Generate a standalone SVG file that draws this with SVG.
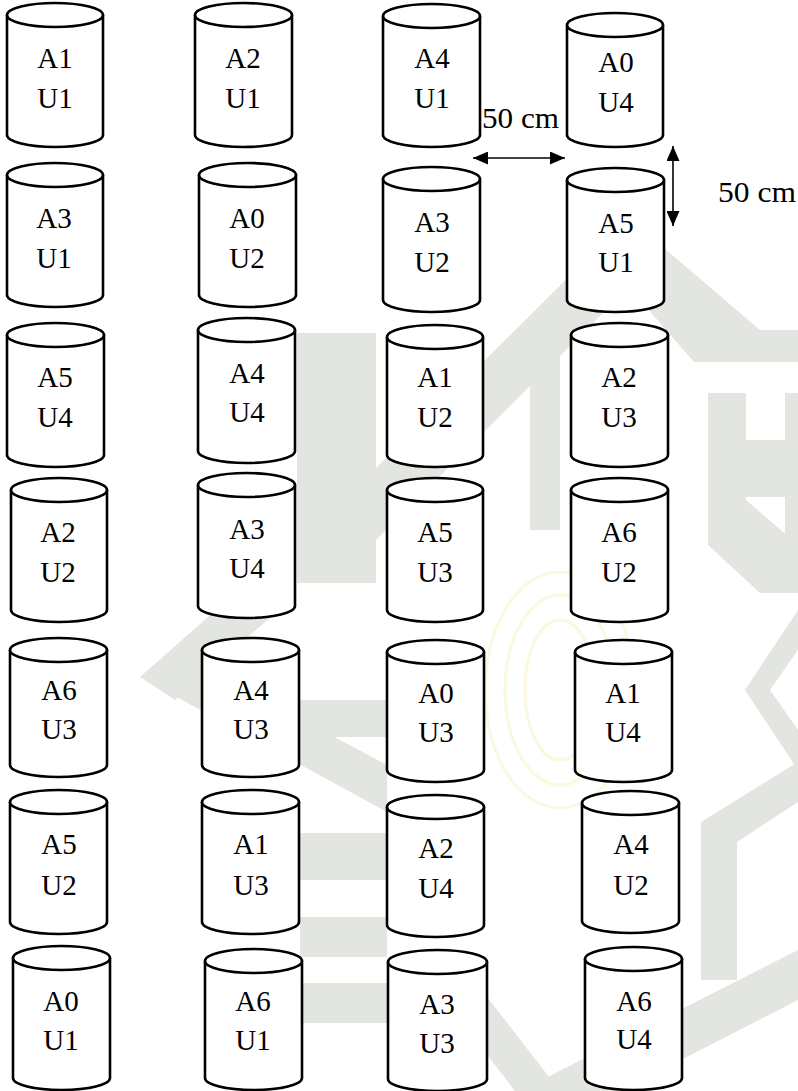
<svg xmlns="http://www.w3.org/2000/svg" width="798" height="1091" viewBox="0 0 798 1091">
<defs>
<style>
.cyl path, .cyl ellipse { fill: #ffffff; stroke: #000000; stroke-width: 2.6; }
.lbl { font-size: 29px; fill: #000000; text-anchor: middle; }
.dim { font-size: 29px; fill: #000000; }
.wm { fill: #e2e5e0; }
.arrow { stroke: #000000; stroke-width: 1.6; fill: none; }
</style>
<marker id="ah" viewBox="0 0 15 13" refX="15" refY="6.5" markerWidth="15" markerHeight="13" markerUnits="userSpaceOnUse" orient="auto-start-reverse">
<path d="M0,0 L15,6.5 L0,13 z" fill="#000000"/>
</marker>
</defs>
<rect x="0" y="0" width="798" height="1091" fill="#ffffff"/>
<g id="watermark">
<polygon class="wm" points="376,468 610,236 650,266 560,356 560,530 530,530 530,386 376,540"/>
<polygon class="wm" points="610,236 650,236 760,330 798,330 798,362 694,362 640,300"/>
<rect class="wm" x="297" y="333" width="79" height="250"/>
<rect class="wm" x="708" y="393" width="38" height="137"/>
<rect class="wm" x="746" y="440" width="39" height="57"/>
<rect class="wm" x="785" y="393" width="13" height="200"/>
<polygon class="wm" points="708,500 746,500 798,545 798,593 760,593 708,545"/>
<polygon class="wm" points="140,677 250,580 285,605 175,700"/>
<polygon class="wm" points="140,677 175,652 387,765 387,812"/>
<rect class="wm" x="300" y="700" width="87" height="37"/>
<rect class="wm" x="300" y="833" width="87" height="47"/>
<rect class="wm" x="300" y="917" width="87" height="40"/>
<rect class="wm" x="300" y="983" width="87" height="40"/>
<polygon class="wm" points="798,610 798,650 770,690 798,730 798,770 745,690"/>
<polygon class="wm" points="701,822 798,762 798,802 737,842 737,980 701,980"/>
<polygon class="wm" points="520,1091 798,950 798,1000 620,1091"/>
<polygon class="wm" points="437,990 470,975 560,1091 515,1091"/>
<g fill="none" stroke="#fbf5d2" stroke-width="3" opacity="0.7">
<ellipse cx="560" cy="690" rx="75" ry="118"/>
<ellipse cx="560" cy="690" rx="55" ry="95"/>
<ellipse cx="560" cy="690" rx="35" ry="70"/>
</g>
</g>
<g id="connectors">
<line class="arrow" x1="473" y1="158" x2="565" y2="158" marker-start="url(#ah)" marker-end="url(#ah)"/>
<line class="arrow" x1="673" y1="146" x2="673" y2="226" marker-start="url(#ah)" marker-end="url(#ah)"/>
</g>
<g id="dim-labels" font-family="Liberation Serif, DejaVu Serif, serif">
<text class="dim" x="482" y="128" textLength="77" lengthAdjust="spacingAndGlyphs">50 cm</text>
<text class="dim" x="718" y="202" textLength="78" lengthAdjust="spacingAndGlyphs">50 cm</text>
</g>
<g id="nodes" font-family="Liberation Serif, DejaVu Serif, serif">
<g id="n-A1U1" class="cyl"><path d="M7,15 V135 A48,12 0 0 0 103,135 V15"/><ellipse cx="55" cy="15" rx="48" ry="12"/><text class="lbl" x="55" y="68">A1</text><text class="lbl" x="55" y="108">U1</text></g>
<g id="n-A2U1" class="cyl"><path d="M195,15 V135 A48.5,12 0 0 0 292,135 V15"/><ellipse cx="243.5" cy="15" rx="48.5" ry="12"/><text class="lbl" x="243" y="68">A2</text><text class="lbl" x="243" y="108">U1</text></g>
<g id="n-A4U1" class="cyl"><path d="M383,16 V135 A48.5,12 0 0 0 480,135 V16"/><ellipse cx="431.5" cy="16" rx="48.5" ry="12"/><text class="lbl" x="432" y="68">A4</text><text class="lbl" x="432" y="108">U1</text></g>
<g id="n-A0U4" class="cyl"><path d="M567,25 V135 A48,12 0 0 0 663,135 V25"/><ellipse cx="615" cy="25" rx="48" ry="12"/><text class="lbl" x="616" y="72">A0</text><text class="lbl" x="616" y="112">U4</text></g>

<g id="n-A3U1" class="cyl"><path d="M7,175 V295 A48,12 0 0 0 103,295 V175"/><ellipse cx="55" cy="175" rx="48" ry="12"/><text class="lbl" x="54" y="228">A3</text><text class="lbl" x="54" y="268">U1</text></g>
<g id="n-A0U2" class="cyl"><path d="M199,175 V295 A48.5,12 0 0 0 296,295 V175"/><ellipse cx="247.5" cy="175" rx="48.5" ry="12"/><text class="lbl" x="247" y="228">A0</text><text class="lbl" x="247" y="268">U2</text></g>
<g id="n-A3U2" class="cyl"><path d="M383,179 V300 A48.5,12 0 0 0 480,300 V179"/><ellipse cx="431.5" cy="179" rx="48.5" ry="12"/><text class="lbl" x="432" y="232">A3</text><text class="lbl" x="432" y="272">U2</text></g>
<g id="n-A5U1" class="cyl"><path d="M567,180 V300 A48.5,12 0 0 0 664,300 V180"/><ellipse cx="615.5" cy="180" rx="48.5" ry="12"/><text class="lbl" x="616" y="233">A5</text><text class="lbl" x="616" y="272">U1</text></g>

<g id="n-A5U4" class="cyl"><path d="M7,335 V455 A48.5,12 0 0 0 104,455 V335"/><ellipse cx="55.5" cy="335" rx="48.5" ry="12"/><text class="lbl" x="55" y="387">A5</text><text class="lbl" x="55" y="427">U4</text></g>
<g id="n-A4U4" class="cyl"><path d="M198,330 V451 A48.5,12 0 0 0 295,451 V330"/><ellipse cx="246.5" cy="330" rx="48.5" ry="12"/><text class="lbl" x="247" y="383">A4</text><text class="lbl" x="247" y="422">U4</text></g>
<g id="n-A1U2" class="cyl"><path d="M387,337 V455 A48,12 0 0 0 483,455 V337"/><ellipse cx="435" cy="337" rx="48" ry="12"/><text class="lbl" x="435" y="387">A1</text><text class="lbl" x="435" y="427">U2</text></g>
<g id="n-A2U3" class="cyl"><path d="M571,335 V455 A48.5,12 0 0 0 668,455 V335"/><ellipse cx="619.5" cy="335" rx="48.5" ry="12"/><text class="lbl" x="619" y="387">A2</text><text class="lbl" x="619" y="427">U3</text></g>

<g id="n-A2U2" class="cyl"><path d="M11,490 V610 A48,12 0 0 0 107,610 V490"/><ellipse cx="59" cy="490" rx="48" ry="12"/><text class="lbl" x="58" y="542">A2</text><text class="lbl" x="58" y="582">U2</text></g>
<g id="n-A3U4" class="cyl"><path d="M198,485 V606 A48.5,12 0 0 0 295,606 V485"/><ellipse cx="246.5" cy="485" rx="48.5" ry="12"/><text class="lbl" x="247" y="539">A3</text><text class="lbl" x="247" y="578">U4</text></g>
<g id="n-A5U3" class="cyl"><path d="M387,490 V610 A48,12 0 0 0 483,610 V490"/><ellipse cx="435" cy="490" rx="48" ry="12"/><text class="lbl" x="435" y="542">A5</text><text class="lbl" x="435" y="582">U3</text></g>
<g id="n-A6U2" class="cyl"><path d="M571,490 V610 A48.5,12 0 0 0 668,610 V490"/><ellipse cx="619.5" cy="490" rx="48.5" ry="12"/><text class="lbl" x="619" y="542">A6</text><text class="lbl" x="619" y="582">U2</text></g>

<g id="n-A6U3" class="cyl"><path d="M10,650 V765 A48.5,12 0 0 0 107,765 V650"/><ellipse cx="58.5" cy="650" rx="48.5" ry="12"/><text class="lbl" x="59" y="700">A6</text><text class="lbl" x="59" y="739">U3</text></g>
<g id="n-A4U3" class="cyl"><path d="M202,650 V765 A48.5,12 0 0 0 299,765 V650"/><ellipse cx="250.5" cy="650" rx="48.5" ry="12"/><text class="lbl" x="251" y="700">A4</text><text class="lbl" x="251" y="739">U3</text></g>
<g id="n-A0U3" class="cyl"><path d="M387,652 V770 A48.5,12 0 0 0 484,770 V652"/><ellipse cx="435.5" cy="652" rx="48.5" ry="12"/><text class="lbl" x="436" y="703">A0</text><text class="lbl" x="436" y="742">U3</text></g>
<g id="n-A1U4" class="cyl"><path d="M575,652 V770 A48.5,12 0 0 0 672,770 V652"/><ellipse cx="623.5" cy="652" rx="48.5" ry="12"/><text class="lbl" x="623" y="703">A1</text><text class="lbl" x="623" y="742">U4</text></g>

<g id="n-A5U2" class="cyl"><path d="M10,802 V922 A48.5,12 0 0 0 107,922 V802"/><ellipse cx="58.5" cy="802" rx="48.5" ry="12"/><text class="lbl" x="59" y="854">A5</text><text class="lbl" x="59" y="895">U2</text></g>
<g id="n-A1U3" class="cyl"><path d="M202,802 V922 A48.5,12 0 0 0 299,922 V802"/><ellipse cx="250.5" cy="802" rx="48.5" ry="12"/><text class="lbl" x="251" y="854">A1</text><text class="lbl" x="251" y="895">U3</text></g>
<g id="n-A2U4" class="cyl"><path d="M387,807 V925 A48.5,12 0 0 0 484,925 V807"/><ellipse cx="435.5" cy="807" rx="48.5" ry="12"/><text class="lbl" x="436" y="858">A2</text><text class="lbl" x="436" y="898">U4</text></g>
<g id="n-A4U2" class="cyl"><path d="M582,803 V921 A48.5,12 0 0 0 679,921 V803"/><ellipse cx="630.5" cy="803" rx="48.5" ry="12"/><text class="lbl" x="631" y="854">A4</text><text class="lbl" x="631" y="895">U2</text></g>

<g id="n-A0U1" class="cyl"><path d="M13,958 V1078 A48.5,12 0 0 0 110,1078 V958"/><ellipse cx="61.5" cy="958" rx="48.5" ry="12"/><text class="lbl" x="61" y="1011">A0</text><text class="lbl" x="61" y="1050">U1</text></g>
<g id="n-A6U1" class="cyl"><path d="M205,961 V1078 A48.5,12 0 0 0 302,1078 V961"/><ellipse cx="253.5" cy="961" rx="48.5" ry="12"/><text class="lbl" x="253" y="1011">A6</text><text class="lbl" x="253" y="1050">U1</text></g>
<g id="n-A3U3" class="cyl"><path d="M388,962 V1079 A49.5,12 0 0 0 487,1079 V962"/><ellipse cx="437.5" cy="962" rx="49.5" ry="12"/><text class="lbl" x="437" y="1014">A3</text><text class="lbl" x="437" y="1053">U3</text></g>
<g id="n-A6U4" class="cyl"><path d="M585,959 V1078 A48.5,12 0 0 0 682,1078 V959"/><ellipse cx="633.5" cy="959" rx="48.5" ry="12"/><text class="lbl" x="634" y="1011">A6</text><text class="lbl" x="634" y="1049">U4</text></g>
</g>
</svg>
